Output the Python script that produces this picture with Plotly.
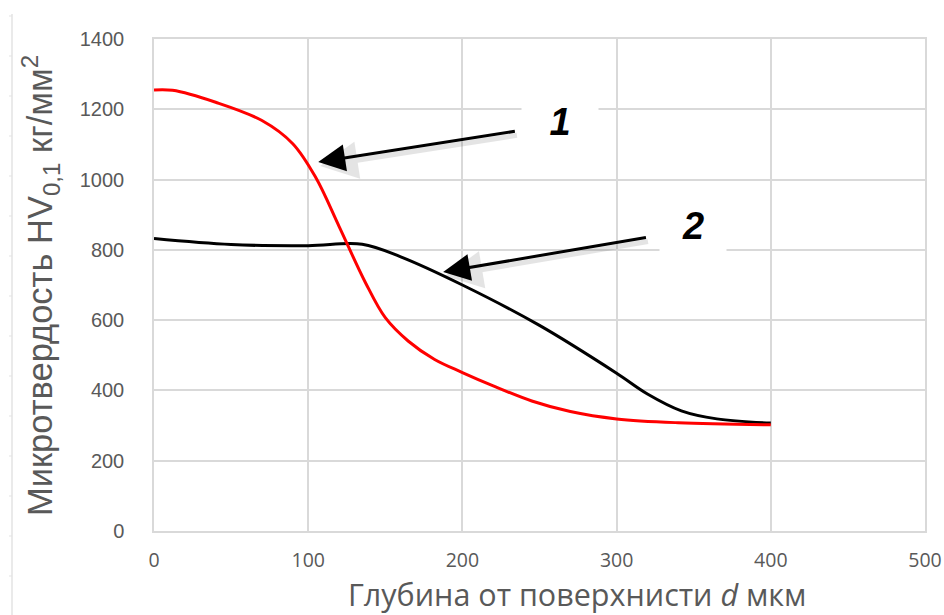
import plotly.graph_objects as go

# ---- data ----
depth_red = [0, 12, 40, 70, 90, 105, 120, 137, 150, 165, 182, 200, 220, 245, 270, 300, 340, 400]
hv_red = [1255, 1254, 1220, 1168, 1102, 1005, 867, 708, 607, 540, 488, 451, 413, 370, 340, 319, 308, 302]

depth_black = [0, 50, 100, 135, 160, 200, 250, 300, 320, 342, 365, 400]
hv_black = [832, 815, 812, 816, 780, 700, 585, 449, 390, 342, 319, 307]

x_ticks = [0, 100, 200, 300, 400, 500]
y_ticks = [0, 200, 400, 600, 800, 1000, 1200, 1400]

labels = ["1", "2"]
arrow_heads = [(106.5, 1050), (187.5, 737)]
arrow_tails = [(235, 1138), (320, 836)]
label_pos = [(263, 1165), (349.5, 868)]

W, H = 944, 615
ML, MR, MT, MB = 154, 19, 39, 84
PW, PH = W - ML - MR, H - MT - MB

def px2paper(px, py):
    return (px - ML) / PW, (H - MB - py) / PH

GRID = "#d9d9d9"
TXT = "#595959"

fig = go.Figure()
fig.add_trace(go.Scatter(x=depth_black, y=hv_black, mode="lines",
                         line=dict(color="#000000", width=3, shape="spline", smoothing=1.0),
                         showlegend=False, hoverinfo="skip"))
fig.add_trace(go.Scatter(x=depth_red, y=hv_red, mode="lines",
                         line=dict(color="#ff0000", width=3, shape="spline", smoothing=1.0),
                         showlegend=False, hoverinfo="skip"))

annotations = []
# soft arrow shadows
for (hx, hy), (tx, ty) in zip(arrow_heads, arrow_tails):
    annotations.append(dict(x=hx, y=hy, ax=tx, ay=ty, xref="x", yref="y", axref="x", ayref="y",
                            text="", showarrow=True, arrowhead=2, arrowsize=1.5, arrowwidth=5,
                            arrowcolor="rgba(0,0,0,0.10)", xshift=2, yshift=-4))
for (hx, hy), (tx, ty) in zip(arrow_heads, arrow_tails):
    annotations.append(dict(x=hx, y=hy, ax=tx, ay=ty, xref="x", yref="y", axref="x", ayref="y",
                            text="", showarrow=True, arrowhead=2, arrowsize=1.8, arrowwidth=3,
                            arrowcolor="#000000"))
box_w = [74, 64]
for lab, (lx, ly), bw in zip(labels, label_pos, box_w):
    annotations.append(dict(x=lx, y=ly, xref="x", yref="y", text="<b><i>" + lab + "</i></b>",
                            showarrow=False, bgcolor="white", width=bw, height=50,
                            font=dict(family="Liberation Sans, Arial", size=38, color="#000000"),
                            xanchor="center", yanchor="middle"))
# axis titles
tx, ty = px2paper(40, 286)
annotations.append(dict(x=tx, y=ty, xref="paper", yref="paper", textangle=-90,
                        text="Микротвердость HV<sub>0,1</sub> кг/мм<sup>2</sup>", showarrow=False,
                        font=dict(family="Liberation Sans, Arial", size=34.5, color=TXT),
                        xanchor="center", yanchor="middle"))
tx, ty = px2paper(577, 594)
annotations.append(dict(x=tx, y=ty, xref="paper", yref="paper",
                        text="Глубина от поверхнисти <i>d</i> мкм", showarrow=False,
                        font=dict(family="Open Sans", size=30.5, color=TXT),
                        xanchor="center", yanchor="middle"))

shapes = []
# faint ruler artifact at left edge
x0, y0 = px2paper(12, 14)
x1, y1 = px2paper(12, 615)
shapes.append(dict(type="line", xref="paper", yref="paper", x0=x0, y0=y0, x1=x1, y1=y1,
                   line=dict(color="#e3e3e3", width=1.5)))
for py in range(16, 615, 40):
    a0, b0 = px2paper(9, py)
    a1, b1 = px2paper(12, py)
    shapes.append(dict(type="line", xref="paper", yref="paper", x0=a0, y0=b0, x1=a1, y1=b1,
                       line=dict(color="#e3e3e3", width=1)))

fig.update_layout(
    width=W, height=H,
    margin=dict(l=ML, r=MR, t=MT, b=MB, autoexpand=False),
    paper_bgcolor="white", plot_bgcolor="white",
    annotations=annotations, shapes=shapes,
    xaxis=dict(range=[0, 500], tickvals=x_ticks, showgrid=True, gridcolor=GRID, gridwidth=1.5,
               showline=True, linecolor=GRID, linewidth=1.5, mirror=True, zeroline=False,
               ticks="", ticklabelstandoff=11, automargin=False,
               tickfont=dict(family="Open Sans", size=19.5, color=TXT)),
    yaxis=dict(range=[0, 1400], tickvals=y_ticks, showgrid=True, gridcolor=GRID, gridwidth=1.5,
               showline=True, linecolor=GRID, linewidth=1.5, mirror=True, zeroline=False,
               ticks="", ticklabelstandoff=24, automargin=False,
               tickfont=dict(family="Liberation Sans, Arial", size=20, color=TXT)),
)

fig.write_html("out.html")
